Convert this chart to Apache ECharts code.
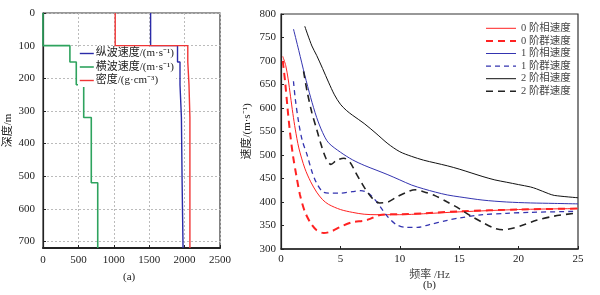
<!DOCTYPE html>
<html>
<head>
<meta charset="utf-8">
<script src="https://cdn.jsdelivr.net/npm/echarts@6/dist/echarts.min.js"></script>
<style>
  html, body { margin: 0; padding: 0; background: #fff; }
  #chart { width: 600px; height: 295px; }
</style>
</head>
<body>
<div id="chart"></div>
<script>
// (a) layered model: layer boundaries (m) and values per layer
const depthBounds = [0, 100, 150, 220, 320, 520, 720];
const vpLayers = [1520, 1900, 1935, 1955, 1965, 1978];
const vsLayers = [0, 380, 470, 575, 682, 773];
const rhoLayers = [1020, 2045, 2062, 2075, 2075, 2075];
const modelNames = ['纵波速度/(m·s⁻¹)', '横波速度/(m·s⁻¹)', '密度/(g·cm⁻³)'];

// (b) dispersion curves [freq Hz, velocity m/s]
const phase0 = [[0.15,710],[0.4,690],[0.6,662],[0.8,625],[1.0,588],[1.2,555],[1.5,515],[2.0,472],[2.5,443],[3.0,421],[3.5,405],[4.0,395],[5,384],[6,378],[7,374],[8,373],[10,373],[12,375],[15,379],[20,384],[25,386]];
const group0 = [[0.15,700],[0.35,655],[0.55,600],[0.75,550],[1.0,500],[1.3,455],[1.6,415],[2.0,380],[2.5,355],[3.0,340],[3.6,334],[4.2,337],[5.0,347],[6.0,357],[7.0,360],[7.5,364],[8.0,370],[8.5,373],[10,374],[12,376],[15,380],[20,384],[25,386]];
const phase1 = [[1.05,768],[1.5,722],[2.0,670],[2.5,622],[3.0,580],[3.5,548],[4.0,526],[5.0,506],[6.0,490],[7.0,478],[8.0,468],[9.0,458],[10,447],[11,436],[12,428],[13,421],[14,415],[15,411],[17,404],[19,400],[21,398],[23,397],[25,396]];
const group1 = [[1.05,657],[1.2,620],[1.5,567],[1.8,530],[2.2,500],[2.6,465],[3.0,440],[3.5,422],[4.0,419],[5.0,419],[6.0,422],[6.7,424],[7.3,420],[7.9,405],[8.5,385],[9.0,368],[9.7,352],[10.5,346],[11.5,346],[12.5,352],[14,361],[15,366],[17,373],[19,376],[21,378],[24.7,380]];
const phase2 = [[2.0,774],[2.6,732],[3.0,712],[3.5,684],[4.0,655],[4.5,628],[5.0,608],[5.5,595],[6.0,585],[7.0,567],[8.0,546],[9.0,524],[10,507],[11,497],[12,489],[13,483],[14,477],[15,470],[16,462],[17,454],[18,447],[19,442],[20,437],[21,432],[21.5,428],[22.5,418],[23,414],[25,409]];
const group2 = [[1.9,678],[2.2,635],[2.6,590],[3.0,555],[3.4,520],[3.8,492],[4.2,480],[4.7,489],[5.3,493],[5.8,485],[6.3,462],[6.8,440],[7.3,420],[7.8,405],[8.3,398],[9.0,400],[9.7,410],[10.5,420],[11.3,426],[12,422],[13,413],[14,400],[15,386],[16,370],[17,356],[18,344],[18.7,341],[19.5,344],[20.5,352],[21.5,361],[23,370],[24.7,376]];
const dispNames = ['0 阶相速度', '0 阶群速度', '1 阶相速度', '1 阶群速度', '2 阶相速度', '2 阶群速度'];

function stepLine(vals) {
  const pts = [];
  vals.forEach((v, i) => {
    pts.push([v, depthBounds[i]]);
    pts.push([v, depthBounds[i + 1]]);
  });
  return pts;
}

const font = "'Liberation Serif', 'Noto Sans CJK SC', serif";
const labelStyle = { color: '#222', fontFamily: font, fontSize: 11 };
const dotted = { show: true, lineStyle: { color: '#bbb', type: [2, 2], width: 1 } };

const chart = echarts.init(document.getElementById('chart'));

const option = {
  backgroundColor: '#fff',
  animation: false,
  textStyle: { fontFamily: font },
  grid: [
    { left: 43, top: 13, width: 177, height: 235, show: true, borderColor: '#333', borderWidth: 1.2, containLabel: false },
    { left: 281, top: 14, width: 297, height: 235, show: true, borderColor: '#333', borderWidth: 1.2, containLabel: false }
  ],
  xAxis: [
    {
      gridIndex: 0, type: 'value', min: 0, max: 2500, interval: 500,
      axisLine: { show: true, onZero: false, lineStyle: { color: '#222', width: 2 } },
      axisTick: { inside: true, length: 3, lineStyle: { color: '#222' } },
      axisLabel: Object.assign({ margin: 7, formatter: v => String(v) }, labelStyle),
      splitLine: dotted
    },
    {
      gridIndex: 1, type: 'value', min: 0, max: 25, interval: 5,
      name: '频率 /Hz', nameLocation: 'middle', nameGap: 13,
      nameTextStyle: { color: '#444', fontFamily: font, fontSize: 11 },
      axisLine: { show: true, onZero: false, lineStyle: { color: '#222', width: 1.5 } },
      axisTick: { inside: true, length: 3, lineStyle: { color: '#222' } },
      axisLabel: Object.assign({ margin: 5 }, labelStyle),
      splitLine: { show: false }
    }
  ],
  yAxis: [
    {
      gridIndex: 0, type: 'value', inverse: true, min: 0, max: 720, interval: 100,
      name: '深度/m', nameLocation: 'middle', nameGap: 29, nameRotate: 90,
      nameTextStyle: { color: '#222', fontFamily: font, fontSize: 11 },
      axisLine: { show: true, onZero: false, lineStyle: { color: '#222', width: 1.2 } },
      axisTick: { inside: true, length: 3, lineStyle: { color: '#222' } },
      axisLabel: Object.assign({ margin: 8, formatter: v => (v % 100 === 0 ? String(v) : '') }, labelStyle),
      splitLine: dotted
    },
    {
      gridIndex: 1, type: 'value', min: 300, max: 800, interval: 50,
      name: '速度/(m·s⁻¹)', nameLocation: 'middle', nameGap: 28, nameRotate: 90,
      nameTextStyle: { color: '#222', fontFamily: font, fontSize: 11 },
      axisLine: { show: true, onZero: false, lineStyle: { color: '#222', width: 1.2 } },
      axisTick: { inside: true, length: 3, lineStyle: { color: '#222' } },
      axisLabel: Object.assign({ margin: 5 }, labelStyle),
      splitLine: { show: false }
    }
  ],
  legend: [
    {
      data: modelNames.slice(), left: 78, top: 47, orient: 'vertical',
      itemWidth: 14, itemHeight: 8, itemGap: 2.5,
      itemStyle: { opacity: 0 },
      lineStyle: { width: 'inherit' },
      backgroundColor: '#fff', padding: [1, 2, 1, 1],
      textStyle: { color: '#222', fontFamily: font, fontSize: 11, padding: [0, 0, 0, -3] }
    },
    {
      data: dispNames.slice(), left: 480, top: 17, orient: 'vertical',
      itemWidth: 30, itemHeight: 8, itemGap: 0,
      itemStyle: { opacity: 0 },
      lineStyle: { width: 'inherit' },
      textStyle: { color: '#444', fontFamily: font, fontSize: 10.5, lineHeight: 12.6 }
    }
  ],
  graphic: [
    { type: 'text', left: 123, top: 272, style: { text: '(a)', font: '11px ' + font, fill: '#222' } },
    { type: 'text', left: 423, top: 280, style: { text: '(b)', font: '11px ' + font, fill: '#222' } }
  ],
  series: [
    { name: modelNames[0], type: 'line', xAxisIndex: 0, yAxisIndex: 0, data: stepLine(vpLayers), showSymbol: false, symbol: 'none', lineStyle: { color: '#2b2ba8', width: 1.4 }, itemStyle: { color: '#2b2ba8' } },
    { name: modelNames[1], type: 'line', xAxisIndex: 0, yAxisIndex: 0, data: stepLine(vsLayers), showSymbol: false, symbol: 'none', lineStyle: { color: '#2ea35e', width: 1.6 }, itemStyle: { color: '#2ea35e' } },
    { name: modelNames[2], type: 'line', xAxisIndex: 0, yAxisIndex: 0, data: stepLine(rhoLayers), showSymbol: false, symbol: 'none', lineStyle: { color: '#f03535', width: 1.4 }, itemStyle: { color: '#f03535' } },

    { name: dispNames[0], type: 'line', xAxisIndex: 1, yAxisIndex: 1, data: phase0, smooth: 0.3, symbol: 'none', lineStyle: { color: '#ff2222', width: 1 }, itemStyle: { color: '#ff2222' } },
    { name: dispNames[1], type: 'line', xAxisIndex: 1, yAxisIndex: 1, data: group0, smooth: 0.3, symbol: 'none', lineStyle: { color: '#ff2222', width: 2, type: [7, 5] }, itemStyle: { color: '#ff2222' } },
    { name: dispNames[2], type: 'line', xAxisIndex: 1, yAxisIndex: 1, data: phase1, smooth: 0.3, symbol: 'none', lineStyle: { color: '#3434b0', width: 1 }, itemStyle: { color: '#3434b0' } },
    { name: dispNames[3], type: 'line', xAxisIndex: 1, yAxisIndex: 1, data: group1, smooth: 0.3, symbol: 'none', lineStyle: { color: '#3434b0', width: 1.3, type: [5, 4] }, itemStyle: { color: '#3434b0' } },
    { name: dispNames[4], type: 'line', xAxisIndex: 1, yAxisIndex: 1, data: phase2, smooth: 0.3, symbol: 'none', lineStyle: { color: '#111', width: 1 }, itemStyle: { color: '#111' } },
    { name: dispNames[5], type: 'line', xAxisIndex: 1, yAxisIndex: 1, data: group2, smooth: 0.3, symbol: 'none', lineStyle: { color: '#222', width: 1.6, type: [7, 5] }, itemStyle: { color: '#222' } }
  ]
};

chart.setOption(option);
</script>
</body>
</html>
